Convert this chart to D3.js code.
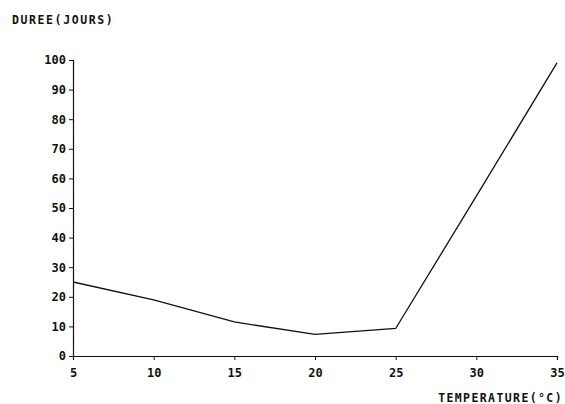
<!DOCTYPE html>
<html>
<head>
<meta charset="utf-8">
<script src="https://cdn.jsdelivr.net/npm/d3@7"></script>
<style>
	body { margin: 0; background: #fff; }
	text { font-family: "DejaVu Sans Mono", monospace; font-weight: bold; fill: #111; }
</style>
</head>
<body>
<svg width="565" height="404"></svg>
<script>
// temperature (°C) vs duration (days)
const temperatures = [5, 10, 15, 20, 25, 30, 35];
const durations = [25, 19, 11.5, 7.3, 9.3, 54, 99];
const xTicks = [5, 10, 15, 20, 25, 30, 35];
const yTicks = [0, 10, 20, 30, 40, 50, 60, 70, 80, 90, 100];

const svg = d3.select("svg");

const x = d3.scaleLinear().domain([5, 35]).range([73, 557]);
const y = d3.scaleLinear().domain([0, 100]).range([356, 60]);

const xAxis = svg.append("g")
	.attr("transform", `translate(0,${y(0)})`)
	.call(d3.axisBottom(x).tickValues(xTicks).tickSize(4).tickPadding(8));

const yAxis = svg.append("g")
	.attr("transform", `translate(${x(5)},0)`)
	.call(d3.axisLeft(y).tickValues(yTicks).tickSize(4).tickPadding(3));

[xAxis, yAxis].forEach(g => {
	g.select(".domain").attr("stroke", "#111").attr("stroke-width", 1.2);
	g.selectAll(".tick line").attr("stroke", "#111");
	g.selectAll(".tick text")
		.attr("font-family", "DejaVu Sans Mono")
		.attr("font-weight", "bold")
		.attr("font-size", 12)
		.attr("fill", "#111");
});

const line = d3.line()
	.x((d, i) => x(temperatures[i]))
	.y(d => y(d));

svg.append("path")
	.datum(durations)
	.attr("d", line)
	.attr("fill", "none")
	.attr("stroke", "#111")
	.attr("stroke-width", 1.3);

svg.append("text")
	.attr("x", 12)
	.attr("y", 24)
	.attr("font-size", 11.5)
	.attr("letter-spacing", 1.6)
	.text("DUREE(JOURS)");

svg.append("text")
	.attr("x", 563)
	.attr("y", 402)
	.attr("text-anchor", "end")
	.attr("font-size", 11.5)
	.attr("letter-spacing", 1.4)
	.text("TEMPERATURE(°C)");
</script>
</body>
</html>
